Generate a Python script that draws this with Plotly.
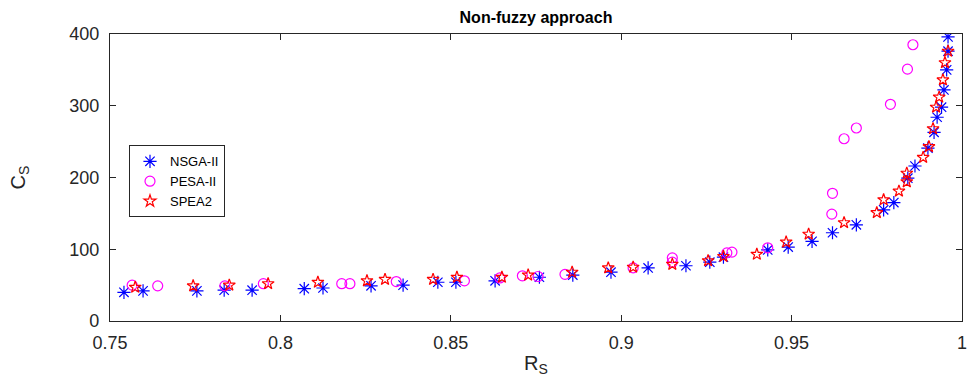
import plotly.graph_objects as go

nsga_r = [0.7541, 0.7597, 0.7755, 0.7835, 0.7917, 0.807, 0.8125, 0.8266, 0.836, 0.8462,
          0.8515, 0.863, 0.876, 0.8858, 0.897, 0.9079, 0.919, 0.926, 0.930, 0.943,
          0.949, 0.956, 0.962, 0.969, 0.977, 0.980, 0.9841, 0.9862, 0.990, 0.9918,
          0.9927, 0.994, 0.9947, 0.9955, 0.9959, 0.9959]
nsga_c = [40, 42, 42, 43, 43, 45, 46, 49, 50, 54,
          54, 56, 61, 64, 68, 74, 77, 82, 89, 99,
          103, 111, 123, 134, 155, 165, 199, 216, 241, 263,
          284, 298, 322, 350, 376, 396]

pesa_r = [0.7565, 0.764, 0.7837, 0.795, 0.818, 0.8204, 0.834, 0.854, 0.8644, 0.871,
          0.8756, 0.8835, 0.9035, 0.915, 0.915, 0.931, 0.9325, 0.943, 0.9618, 0.962,
          0.9654, 0.969, 0.979, 0.984, 0.9856]
pesa_c = [50, 49, 49, 52, 52, 52, 55, 56, 60, 63,
          62, 65, 74, 88, 82, 95, 96, 102, 149, 178,
          254, 269, 302, 351, 385]

spea_r = [0.7574, 0.7744, 0.785, 0.7964, 0.811, 0.8254, 0.8307, 0.8448, 0.8518, 0.865,
          0.8727, 0.8856, 0.8962, 0.9035, 0.915, 0.9255, 0.930, 0.9398, 0.9484, 0.955,
          0.9654, 0.975, 0.977, 0.9815, 0.9838, 0.9838, 0.9886, 0.9903, 0.9915, 0.9924,
          0.9933, 0.9944, 0.995, 0.9959]
spea_c = [47, 49, 50, 52, 54, 56, 58, 58, 61, 61,
          64, 68, 74, 75, 79, 84, 90, 93, 110, 121,
          137, 151, 169, 181, 194, 206, 228, 243, 268, 298,
          312, 336, 360, 376]

x_ticks = [0.75, 0.8, 0.85, 0.9, 0.95, 1]
x_tick_text = ["0.75", "0.8", "0.85", "0.9", "0.95", "1"]
y_ticks = [0, 100, 200, 300, 400]

font_family = "Liberation Sans, Arial, Helvetica, sans-serif"
axis_color = "#262626"

fig = go.Figure()
fig.add_trace(go.Scatter(x=nsga_r, y=nsga_c, mode="markers", name="NSGA-II",
                         marker=dict(symbol="asterisk-open", size=11, color="#0000ff",
                                     line=dict(color="#0000ff", width=1.2))))
fig.add_trace(go.Scatter(x=pesa_r, y=pesa_c, mode="markers", name="PESA-II",
                         marker=dict(symbol="circle-open", size=10, color="#ff00ff",
                                     line=dict(color="#ff00ff", width=1.2))))
fig.add_trace(go.Scatter(x=spea_r, y=spea_c, mode="markers", name="SPEA2",
                         marker=dict(symbol="star-open", size=9, color="#ff0000",
                                     line=dict(color="#ff0000", width=1.2))))

fig.update_layout(
    width=973, height=377,
    margin=dict(l=110, r=11, t=34, b=56),
    paper_bgcolor="white", plot_bgcolor="white",
    font=dict(family=font_family, size=18, color="#262626"),
    title=dict(text="<b>Non-fuzzy approach</b>", x=(110 + 962) / 2 / 973, xanchor="center",
               y=1 - 17 / 377, yanchor="middle", font=dict(size=16, color="black")),
    xaxis=dict(range=[0.75, 1], tickvals=x_ticks, ticktext=x_tick_text, automargin=False,
               showgrid=False, zeroline=False, showline=True, linecolor=axis_color,
               linewidth=1.3, mirror="ticks", ticks="inside", ticklen=6,
               tickcolor=axis_color, ticklabelstandoff=5,
               title=dict(text="R<sub>S</sub>", standoff=4, font=dict(size=20))),
    yaxis=dict(range=[0, 400], tickvals=y_ticks, showgrid=False, zeroline=False,
               automargin=False,
               showline=True, linecolor=axis_color, linewidth=1.3, mirror="ticks",
               ticks="inside", ticklen=6, tickcolor=axis_color, ticklabelstandoff=6,
               title=dict(text="C<sub>S</sub>", standoff=38, font=dict(size=20))),
    legend=dict(x=0.0223, y=0.612, xanchor="left", yanchor="top",
                bordercolor="#262626", borderwidth=1, bgcolor="white",
                font=dict(size=13, color="black"), itemwidth=30,
                tracegroupgap=0),
    showlegend=True,
)

fig.write_html("out.html")
